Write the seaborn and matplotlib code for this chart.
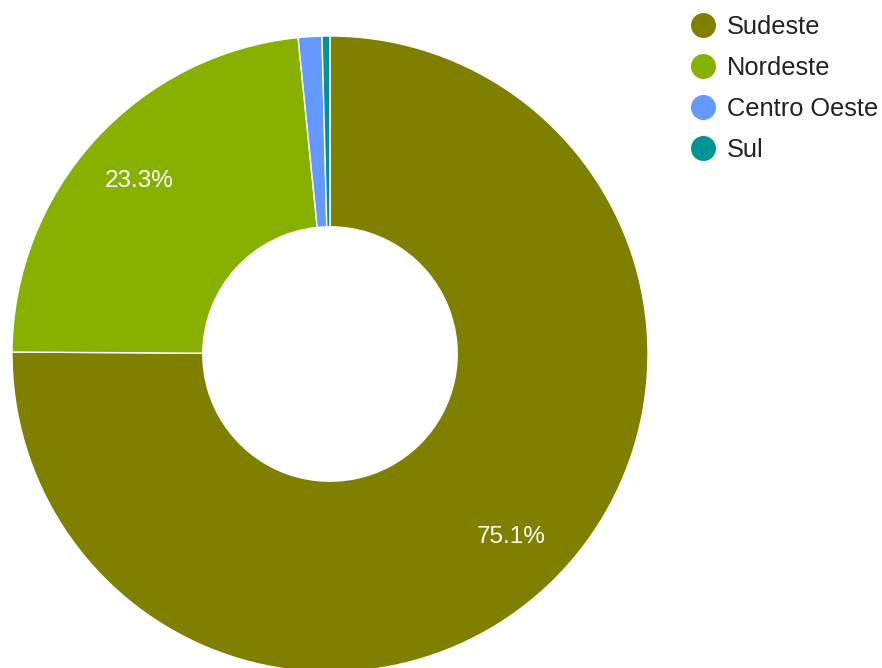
import matplotlib
matplotlib.use("Agg")
import matplotlib.pyplot as plt
from matplotlib.lines import Line2D
import seaborn as sns

regioes = ["Sudeste", "Nordeste", "Centro Oeste", "Sul"]
percentuais = [75.1, 23.3, 1.2, 0.4]
cores = ["#808000", "#88b000", "#6699ff", "#009494"]

sns.set_theme(style="white")
plt.rcParams["font.family"] = ["Liberation Sans", "DejaVu Sans"]

W, H = 882, 668
fig = plt.figure(figsize=(W / 100, H / 100), dpi=100)

# donut: center (330, 354) px, radius 318 px
cx, cy, r = 330, 354, 318
ax = fig.add_axes([(cx - r) / W, (H - cy - r) / H, 2 * r / W, 2 * r / H])

palette = sns.color_palette(cores)


def fmt(p):
    return f"{p:.1f}%" if p > 5 else ""


wedges, texts, autotexts = ax.pie(
    percentuais,
    colors=palette,
    startangle=90,
    counterclock=False,
    radius=1,
    pctdistance=0.81,
    autopct=fmt,
    wedgeprops=dict(width=0.6, edgecolor="white", linewidth=1),
    textprops=dict(color="white", fontsize=17.5),
)
ax.set_xlim(-1, 1)
ax.set_ylim(-1, 1)

handles = [Line2D([0], [0], marker="o", linestyle="", markersize=17,
                  markerfacecolor=c, markeredgecolor=c) for c in cores]
fig.legend(handles, regioes, loc="upper left",
           bbox_to_anchor=(676 / W, 1 - 5 / H),
           frameon=False, fontsize=18.3, labelspacing=0.67,
           handletextpad=0.3, handlelength=1.3, borderaxespad=0,
           labelcolor="#222222")

fig.savefig("out.png", dpi=100)
